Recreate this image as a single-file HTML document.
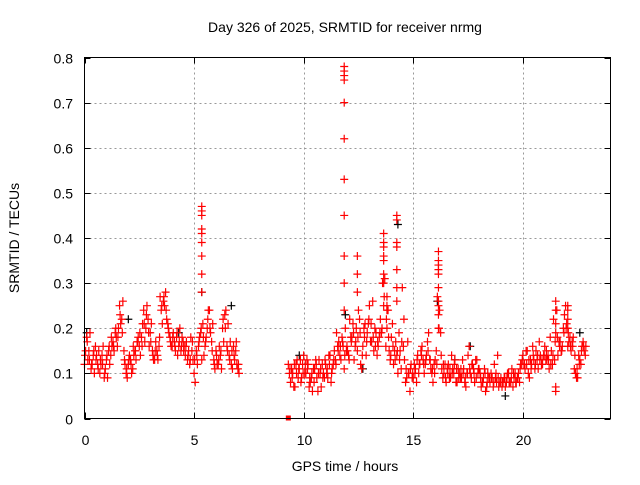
<!DOCTYPE html>
<html><head><meta charset="utf-8"><style>
body{margin:0;background:#fff}
svg text{font-family:"Liberation Sans",sans-serif;font-size:14px;fill:#000}
</style></head><body>
<svg id="chart" width="640" height="480" viewBox="0 0 640 480" xmlns="http://www.w3.org/2000/svg">
<text x="345" y="32" text-anchor="middle">Day 326 of 2025, SRMTID for receiver nrmg</text>
<text x="345" y="471" text-anchor="middle">GPS time / hours</text>
<text transform="translate(19,238) rotate(-90)" text-anchor="middle">SRMTID / TECUs</text>
<g id="grid"></g>
<g id="ticks"></g>
<g id="black"></g>
<g id="red"></g>
<rect x="84.5" y="57.5" width="526" height="361" fill="none" stroke="#000"/>
</svg>
<script>
const xTicks=[0,5,10,15,20];
const yTicks=[0,0.1,0.2,0.3,0.4,0.5,0.6,0.7,0.8];
const yTickLabels=["0","0.1","0.2","0.3","0.4","0.5","0.6","0.7","0.8"];
const segStarts=[0.0,9.3];
const segA1=[0.12,0.18,0.15,0.11,0.14,0.16,0.12,0.10,0.14,0.09,0.13,0.15,0.14,0.17,0.19,0.16,0.25,0.22,0.15,0.10,0.12,0.13,0.11,0.15,0.17,0.16,0.18,0.24,0.20,0.22,0.19,0.15,0.13,0.15,0.16,0.24,0.26,0.28,0.21,0.18,0.16,0.17,0.18,0.16,0.15,0.17,0.14,0.13,0.12,0.15,0.10,0.15,0.16,0.19,0.21,0.16,0.20,0.24,0.17,0.13,0.15,0.12,0.14,0.20,0.23,0.16,0.14,0.12,0.16,0.15,0.11];
const segA2=[0.15,0.13,0.19,0.12,0.10,0.14,0.15,0.12,0.16,0.11,0.09,0.12,0.16,0.15,0.18,0.20,0.21,0.26,0.12,0.09,0.14,0.10,0.14,0.13,0.18,0.14,0.21,0.17,0.25,0.16,0.21,0.13,0.17,0.13,0.27,0.21,0.25,0.22,0.19,0.16,0.19,0.15,0.14,0.20,0.18,0.16,0.17,0.15,0.18,0.13,0.08,0.12,0.18,0.13,0.14,0.18,0.24,0.19,0.21,0.11,0.12,0.16,0.11,0.17,0.24,0.21,0.17,0.11,0.13,0.12,0.10];
const segA3=[0.14,0.17,0.13,0.12,0.15,0.13,0.11,0.13,0.12,0.10,0.14,0.16,0.18,0.16,0.20,0.18,0.23,0.19,0.13,0.11,0.13,0.12,0.16,0.15,0.17,0.19,0.16,0.21,0.23,0.19,0.17,0.14,0.15,0.14,0.18,0.25,0.27,0.24,0.20,0.17,0.18,0.16,0.19,0.17,0.16,0.15,0.16,0.14,0.13,0.17,0.13,0.14,0.17,0.20,0.18,0.17,0.22,0.20,0.15,0.12,0.14,0.13,0.15,0.22,0.20,0.15,0.13,0.15,0.14,0.17,0.12];
const segB1=[0.12,0.08,0.10,0.07,0.13,0.11,0.09,0.14,0.10,0.12,0.08,0.06,0.11,0.09,0.13,0.07,0.10,0.12,0.09,0.14,0.11,0.15,0.19,0.17,0.13,0.16,0.20,0.15,0.22,0.18,0.13,0.20,0.24,0.12,0.16,0.21,0.19,0.25,0.17,0.15,0.19,0.16,0.22,0.30,0.31,0.20,0.15,0.18,0.12,0.17,0.10,0.15,0.29,0.13,0.09,0.10,0.12,0.09,0.11,0.14,0.12,0.16,0.10,0.14,0.19,0.11,0.08,0.13,0.27,0.24,0.11,0.10,0.08,0.12,0.09,0.11,0.13,0.08,0.10,0.09,0.11,0.07,0.14,0.10,0.12,0.08,0.13,0.11,0.07,0.09,0.06,0.10,0.08,0.09,0.12,0.08,0.07,0.09,0.08,0.07,0.10,0.08,0.11,0.09,0.08,0.10,0.12,0.14,0.11,0.15,0.09,0.12,0.13,0.15,0.11,0.14,0.12,0.16,0.13,0.11,0.15,0.22,0.19,0.14,0.17,0.16,0.23,0.21,0.17,0.15,0.18,0.10,0.09,0.13,0.16,0.15];
const segB2=[0.10,0.11,0.07,0.12,0.09,0.13,0.12,0.10,0.13,0.07,0.09,0.11,0.13,0.06,0.10,0.12,0.09,0.10,0.14,0.08,0.12,0.13,0.16,0.14,0.18,0.11,0.15,0.14,0.18,0.21,0.16,0.15,0.22,0.11,0.20,0.14,0.21,0.17,0.26,0.20,0.14,0.18,0.19,0.25,0.16,0.24,0.13,0.21,0.15,0.14,0.19,0.11,0.16,0.08,0.17,0.06,0.09,0.12,0.08,0.10,0.15,0.13,0.12,0.17,0.13,0.10,0.12,0.15,0.33,0.19,0.09,0.12,0.11,0.09,0.14,0.10,0.08,0.11,0.09,0.13,0.08,0.10,0.16,0.09,0.11,0.13,0.10,0.10,0.08,0.11,0.07,0.09,0.10,0.07,0.09,0.14,0.08,0.07,0.09,0.08,0.10,0.08,0.07,0.10,0.09,0.08,0.12,0.12,0.15,0.10,0.13,0.16,0.11,0.13,0.17,0.12,0.14,0.13,0.14,0.18,0.12,0.13,0.24,0.17,0.15,0.20,0.25,0.16,0.18,0.17,0.11,0.09,0.14,0.12,0.17,0.14];
const segB3=[0.11,0.09,0.12,0.10,0.11,0.08,0.10,0.12,0.11,0.09,0.10,0.08,0.12,0.10,0.11,0.09,0.13,0.11,0.12,0.10,0.13,0.12,0.15,0.16,0.17,0.14,0.16,0.13,0.17,0.19,0.17,0.18,0.19,0.14,0.18,0.17,0.22,0.21,0.18,0.16,0.17,0.19,0.20,0.27,0.22,0.18,0.14,0.16,0.13,0.15,0.13,0.17,0.22,0.11,0.10,0.11,0.10,0.10,0.13,0.12,0.14,0.12,0.13,0.15,0.13,0.11,0.10,0.12,0.20,0.14,0.12,0.09,0.10,0.11,0.10,0.12,0.11,0.09,0.11,0.10,0.09,0.10,0.11,0.12,0.10,0.09,0.11,0.09,0.08,0.10,0.08,0.09,0.09,0.08,0.10,0.09,0.08,0.08,0.09,0.09,0.08,0.09,0.10,0.08,0.09,0.11,0.13,0.12,0.12,0.13,0.11,0.14,0.12,0.14,0.13,0.13,0.14,0.15,0.13,0.12,0.14,0.17,0.18,0.16,0.15,0.19,0.20,0.19,0.16,0.16,0.14,0.11,0.12,0.15,0.16,0.16];
const spikeHours=[5.35,11.85,12.45,13.65,13.8,14.25,16.15,21.5,22.05];
const spikeValues=[[0.47,0.46,0.45,0.42,0.41,0.39,0.36,0.32,0.28],[0.78,0.77,0.76,0.75,0.70,0.62,0.53,0.45,0.36,0.30,0.24],[0.36,0.32,0.28],[0.41,0.39,0.38,0.36,0.35,0.32,0.30],[0.27,0.25,0.24],[0.45,0.44,0.39,0.38,0.33,0.29,0.26],[0.37,0.35,0.34,0.32,0.29,0.26,0.25,0.23,0.20],[0.26,0.24,0.21,0.06,0.07],[0.25,0.24,0.22,0.20]];
const blackHours=[11.9,5.35,14.3,16.1,6.7,19.2,12.7,2.0,0.1,22.6,16.9,9.8,4.3,17.6];
const blackValues=[0.23,0.28,0.43,0.26,0.25,0.05,0.11,0.22,0.19,0.19,0.13,0.14,0.19,0.16];
const zeroHours=[9.3];
const zeroValues=[0];

const X=h=>84.5+h*(526/24);
const Y=v=>418.5-v*(361/0.8);
const NS="http://www.w3.org/2000/svg";
const grid=document.getElementById('grid'),ticks=document.getElementById('ticks');
function ln(p,x1,y1,x2,y2,st,dash){const l=document.createElementNS(NS,'line');l.setAttribute('x1',x1);l.setAttribute('y1',y1);l.setAttribute('x2',x2);l.setAttribute('y2',y2);l.setAttribute('stroke',st);if(dash)l.setAttribute('stroke-dasharray',dash);p.appendChild(l);return l;}
function tx(p,x,y,s,anchor){const t=document.createElementNS(NS,'text');t.setAttribute('x',x);t.setAttribute('y',y);t.setAttribute('text-anchor',anchor);t.textContent=s;p.appendChild(t);return t;}
xTicks.forEach(h=>{const x=Math.round(X(h))+0.5;
 if(h>0){const g=ln(grid,x,57.5,x,418.5,'#999','2,3');
 
 }
 ln(ticks,x,418.5,x,412.5,'#000');ln(ticks,x,57.5,x,63.5,'#000');
 const t=tx(ticks,x,445,String(h),'middle');
 
 });
yTicks.forEach((v,i)=>{const y=Math.round(Y(v))+0.5;
 if(v>0&&v<0.8){const g=ln(grid,84.5,y,610.5,y,'#999','2,3');
 
 }
 ln(ticks,84.5,y,90.5,y,'#000');ln(ticks,610.5,y,604.5,y,'#000');
 const t=tx(ticks,73,y+5,yTickLabels[i],'end');
 
 });
function plus(p,h,v,c,name){const x=X(h),y=Y(v);const pa=document.createElementNS(NS,'path');
 pa.setAttribute('d',`M${x-4},${y}H${x+4}M${x},${y-4}V${y+4}`);pa.setAttribute('stroke',c);pa.setAttribute('stroke-width','1.2');pa.setAttribute('fill','none');
 
 
 p.appendChild(pa);}
const black=document.getElementById('black'),red=document.getElementById('red');
blackHours.forEach((h,i)=>plus(black,h,blackValues[i],'#000','black-point'));
segA1.forEach((v,i)=>plus(red,segStarts[0]+i*0.1,v,'#f00','red-point'));
segA2.forEach((v,i)=>plus(red,segStarts[0]+0.05+i*0.1,v,'#f00','red-point'));
segA3.forEach((v,i)=>plus(red,segStarts[0]+0.025+i*0.1,v,'#f00','red-point'));
segB1.forEach((v,i)=>plus(red,segStarts[1]+i*0.1,v,'#f00','red-point'));
segB2.forEach((v,i)=>plus(red,segStarts[1]+0.05+i*0.1,v,'#f00','red-point'));
segB3.forEach((v,i)=>plus(red,segStarts[1]+0.075+i*0.1,v,'#f00','red-point'));
spikeHours.forEach((h,i)=>spikeValues[i].forEach(v=>plus(red,h,v,'#f00','red-spike-point')));
zeroHours.forEach((h,i)=>{const r=document.createElementNS(NS,'rect');r.setAttribute('x',X(h)-2.5);r.setAttribute('y',Y(zeroValues[i])-3);r.setAttribute('width',5);r.setAttribute('height',5);r.setAttribute('fill','#f00');
 
 
 red.appendChild(r);});
</script>
</body></html>
